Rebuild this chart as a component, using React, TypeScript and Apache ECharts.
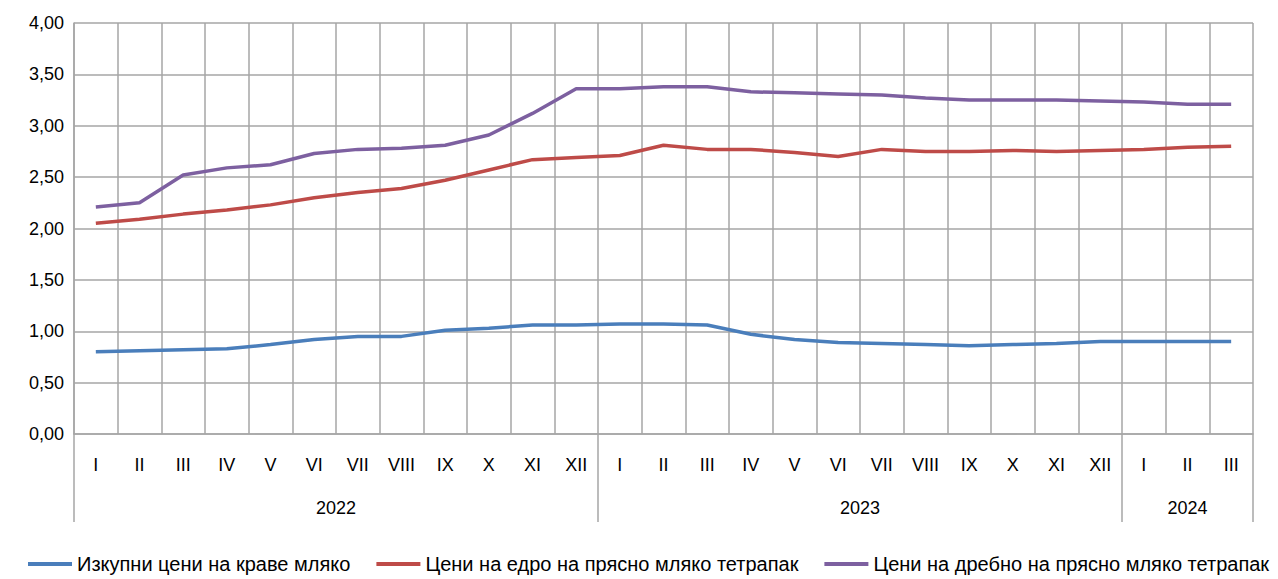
import React, { useEffect, useRef } from "react";
import * as echarts from "echarts";

const months = ["I","II","III","IV","V","VI","VII","VIII","IX","X","XI","XII","I","II","III","IV","V","VI","VII","VIII","IX","X","XI","XII","I","II","III"];
const years = ["2022", "2023", "2024"];
const yearMonthCounts = [12, 12, 3];

const seriesNames = [
  "Изкупни цени на краве мляко",
  "Цени на едро на прясно мляко тетрапак",
  "Цени на дребно на прясно мляко тетрапак",
];
const purchase = [0.80,0.81,0.82,0.83,0.87,0.92,0.95,0.95,1.01,1.03,1.06,1.06,1.07,1.07,1.06,0.97,0.92,0.89,0.88,0.87,0.86,0.87,0.88,0.90,0.90,0.90,0.90];
const wholesale = [2.05,2.09,2.14,2.18,2.23,2.30,2.35,2.39,2.47,2.57,2.67,2.69,2.71,2.81,2.77,2.77,2.74,2.70,2.77,2.75,2.75,2.76,2.75,2.76,2.77,2.79,2.80];
const retail = [2.21,2.25,2.52,2.59,2.62,2.73,2.77,2.78,2.81,2.91,3.12,3.36,3.36,3.38,3.38,3.33,3.32,3.31,3.30,3.27,3.25,3.25,3.25,3.24,3.23,3.21,3.21];
const colors = ["#4a7ebb", "#be4b48", "#7d60a0"];

export default function App() {
  const ref = useRef<HTMLDivElement>(null);
  useEffect(() => {
    if (!ref.current) return;
    const chart = echarts.init(ref.current, null, { renderer: "svg" });
    const halfPoints: string[] = [];
    for (let i = 0; i <= months.length * 2; i++) halfPoints.push("h" + i);
    const yearLabelAt: Record<number, string> = {};
    const yearTicks: number[] = [0];
    let start = 0;
    years.forEach((y, k) => {
      const n = yearMonthCounts[k];
      yearLabelAt[start + n] = y;
      start += n * 2;
      yearTicks.push(start);
    });
    const font = "'Liberation Sans', Arial, sans-serif";
    const grid = "#a6a6a6";
    chart.setOption({
      animation: false,
      textStyle: { fontFamily: font },
      grid: { left: 74, right: 25, top: 23, bottom: 145 },
      legend: {
        left: 28,
        top: 554,
        width: 1250,
        padding: 0,
        icon: "rect",
        itemWidth: 44,
        itemHeight: 4,
        itemGap: 26,
        textStyle: { fontSize: 20, color: "#000", fontFamily: font },
        data: seriesNames,
      },
      xAxis: [
        {
          type: "category",
          data: months,
          boundaryGap: true,
          axisLine: { show: true, lineStyle: { color: grid, width: 1.5 } },
          axisTick: { show: false },
          axisLabel: { interval: 0, fontSize: 18, color: "#000", margin: 22, fontFamily: font },
          splitLine: { show: true, interval: 0, lineStyle: { color: grid, width: 1.5 } },
        },
        {
          type: "category",
          data: halfPoints,
          boundaryGap: false,
          position: "bottom",
          axisLine: { show: false },
          axisTick: {
            show: true,
            length: 88,
            interval: (i: number) => yearTicks.includes(i),
            lineStyle: { color: grid, width: 1.5 },
          },
          axisLabel: {
            interval: 0,
            margin: 65,
            fontSize: 18,
            color: "#000",
            fontFamily: font,
            formatter: (_v: string, i: number) => yearLabelAt[i] || "",
          },
          splitLine: { show: false },
        },
      ],
      yAxis: {
        type: "value",
        min: 0,
        max: 4,
        interval: 0.5,
        axisLine: { show: true, lineStyle: { color: grid, width: 1.5 } },
        axisTick: { show: false },
        axisLabel: {
          fontSize: 18,
          color: "#000",
          margin: 10,
          fontFamily: font,
          formatter: (v: number) => v.toFixed(2).replace(".", ","),
        },
        splitLine: { show: true, lineStyle: { color: grid, width: 1.5 } },
      },
      series: [purchase, wholesale, retail].map((d, i) => ({
        name: seriesNames[i],
        type: "line",
        xAxisIndex: 0,
        data: d,
        symbol: "none",
        color: colors[i],
        lineStyle: { width: 3.5, color: colors[i] },
      })),
    });
    return () => chart.dispose();
  }, []);
  return (
    <div
      ref={ref}
      style={{ position: "absolute", left: 0, top: 0, width: 1278, height: 579 }}
    />
  );
}
